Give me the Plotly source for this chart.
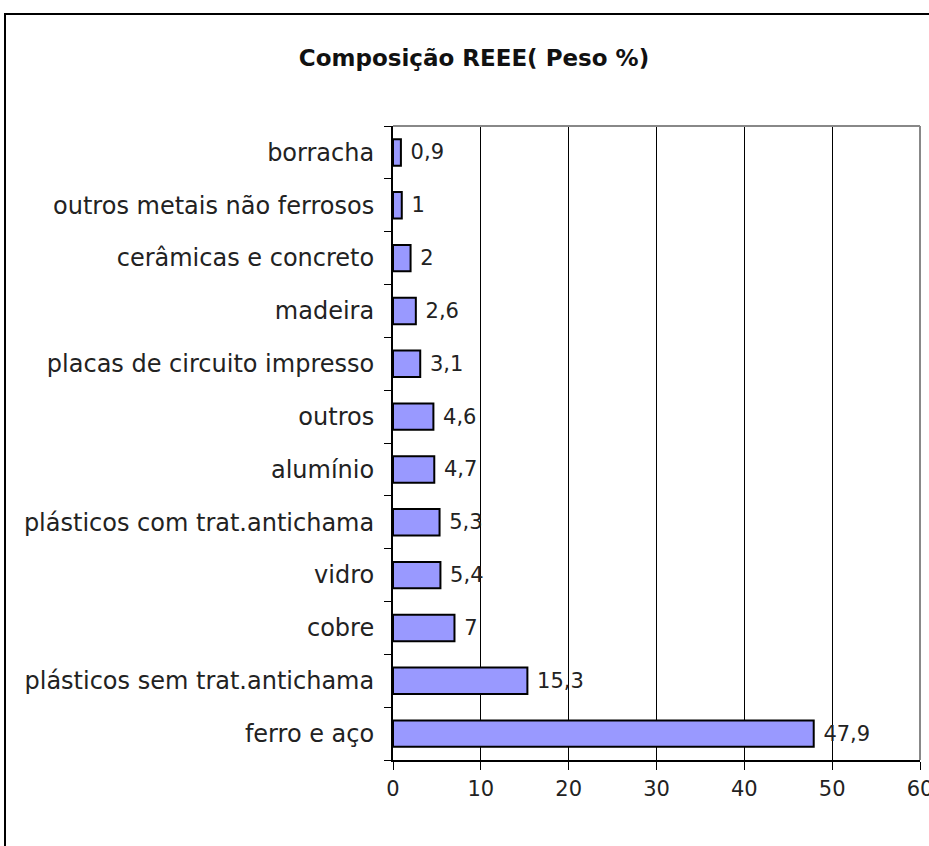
import plotly.graph_objects as go

categories = ["ferro e aço", "plásticos sem trat.antichama", "cobre", "vidro",
              "plásticos com trat.antichama", "alumínio", "outros",
              "placas de circuito impresso", "madeira", "cerâmicas e concreto",
              "outros metais não ferrosos", "borracha"]
values = [47.9, 15.3, 7, 5.4, 5.3, 4.7, 4.6, 3.1, 2.6, 2, 1, 0.9]
x_ticks = [0, 10, 20, 30, 40, 50, 60]

labels = ["\u00a0" + f"{v:g}".replace(".", ",") for v in values]

W, H = 929, 846
L, R, T, B = 393, 9, 126, 86
pw, ph = W - L - R, H - T - B

def px_x(x):
    return (x - L) / pw

def px_y(y):
    return 1 - (y - T) / ph

FONT = "DejaVu Sans, Liberation Sans, Arial"

fig = go.Figure(go.Bar(
    y=categories, x=values, orientation="h",
    marker=dict(color="#9999FF", line=dict(color="#000000", width=2)),
    text=labels, textposition="outside", cliponaxis=False,
    textfont=dict(family=FONT, size=21, color="#222"),
    width=0.5,
))

fig.update_layout(
    width=W, height=H,
    margin=dict(l=L, r=R, t=T, b=B, autoexpand=False),
    paper_bgcolor="white", plot_bgcolor="white",
    showlegend=False,
    title=dict(text="<b>Composição REEE( Peso %)</b>", x=474 / W, xref="container",
               xanchor="center", y=1 - 58 / H, yref="container", yanchor="middle",
               font=dict(family=FONT, size=23, color="#111")),
    xaxis=dict(range=[0, 60], tickvals=x_ticks, ticks="outside", ticklen=8,
               tickcolor="black", tickwidth=1, automargin=False,
               ticklabeloverflow="allow",
               showgrid=True, gridcolor="black", gridwidth=1,
               showline=True, linecolor="black", linewidth=2, zeroline=False,
               tickfont=dict(family=FONT, size=21, color="#222"),
               ticklabelstandoff=1),
    yaxis=dict(type="category", tickson="boundaries", ticks="outside", ticklen=7,
               tickcolor="black", tickwidth=1, showgrid=False, automargin=False,
               showline=True, linecolor="black", linewidth=2,
               ticklabelstandoff=12,
               tickfont=dict(family=FONT, size=24, color="#222")),
    shapes=[
        dict(type="line", xref="paper", yref="paper", x0=0, x1=1, y0=1, y1=1,
             line=dict(color="#888", width=2)),
        dict(type="line", xref="paper", yref="paper", x0=1, x1=1, y0=0, y1=1,
             line=dict(color="#888", width=2)),
        dict(type="rect", xref="paper", yref="paper", x0=px_x(5), x1=px_x(W + 20),
             y0=px_y(H + 20), y1=px_y(14), line=dict(color="black", width=2),
             layer="below"),
    ],
)

fig.write_html("out.html")
